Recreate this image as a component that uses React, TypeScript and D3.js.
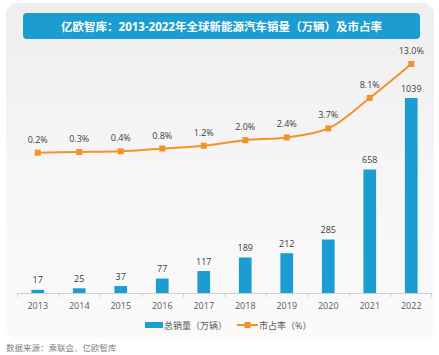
import React from "react";
import * as d3 from "d3";

const years = ["2013", "2014", "2015", "2016", "2017", "2018", "2019", "2020", "2021", "2022"];
const sales = [17, 25, 37, 77, 117, 189, 212, 285, 658, 1039];
const share = [0.2, 0.3, 0.4, 0.8, 1.2, 2.0, 2.4, 3.7, 8.1, 13.0];
const shareLabels = ["0.2%", "0.3%", "0.4%", "0.8%", "1.2%", "2.0%", "2.4%", "3.7%", "8.1%", "13.0%"];
const title = "亿欧智库：2013-2022年全球新能源汽车销量（万辆）及市占率";
const legendBar = "总销量（万辆）";
const legendLine = "市占率（%）";
const source = "数据来源：乘联会、亿欧智库";

const FONT = "'Open Sans', 'Noto Sans CJK SC', sans-serif";
const BLUE = "#1b9dd2";
const ORANGE = "#f39229";

export default function App() {
  const W = 439, H = 355;
  const x = d3.scaleBand<string>().domain(years).range([17, 432]).paddingInner(0).paddingOuter(0);
  const baseY = 293;
  const yBar = d3.scaleLinear().domain([0, 1039]).range([baseY, 98]);
  const yLine = d3.scaleLinear().domain([0.2, 13.0]).range([152.7, 64]);
  const bw = 12.7;
  const cx = (d: string) => (x(d) as number) + x.bandwidth() / 2;
  const line = d3.line<number>().x((_, i) => cx(years[i])).y((d) => yLine(d)).curve(d3.curveMonotoneX);

  return (
    <svg width={W} height={H} style={{ position: "absolute", left: 0, top: 0, fontFamily: FONT }}>
      <defs>
        <linearGradient id="bg" x1="0" y1="0" x2="0" y2="1">
          <stop offset="0" stopColor="#eeeeee" />
          <stop offset="0.5" stopColor="#f6f6f6" />
          <stop offset="1" stopColor="#fafafa" />
        </linearGradient>
      </defs>
      <rect x={0} y={0} width={W} height={H} fill="#ffffff" />
      <rect x={6} y={3} width={428} height={336} rx={11} fill="url(#bg)" />
      <rect x={23} y={13} width={397} height={26} rx={4} fill={BLUE} />
      <text x={221.5} y={30.5} textAnchor="middle" fill="#ffffff" fontSize={11.5} fontWeight="bold">{title}</text>

      {/* axis */}
      <line x1={17} x2={432} y1={baseY + 0.5} y2={baseY + 0.5} stroke="#d0d0d0" strokeWidth={1} />
      {years.map((d) => (
        <line key={"t" + d} x1={(x(d) as number) + 0.5} x2={(x(d) as number) + 0.5} y1={baseY} y2={baseY + 4} stroke="#d0d0d0" />
      ))}
      <line x1={431.5} x2={431.5} y1={baseY} y2={baseY + 4} stroke="#d0d0d0" />
      {years.map((d) => (
        <text key={"y" + d} x={cx(d)} y={309} textAnchor="middle" fontSize={9} fill="#595959">{d}</text>
      ))}

      {/* bars */}
      {sales.map((v, i) => (
        <g key={"b" + i}>
          <rect x={cx(years[i]) - bw / 2} y={yBar(v)} width={bw} height={baseY - yBar(v)} fill={BLUE} />
          <text x={cx(years[i])} y={yBar(v) - 6.5} textAnchor="middle" fontSize={9} fill="#404040">{v}</text>
        </g>
      ))}

      {/* line */}
      <path d={line(share) || ""} fill="none" stroke={ORANGE} strokeWidth={2} />
      {share.map((v, i) => (
        <g key={"p" + i}>
          <rect x={cx(years[i]) - 3} y={yLine(v) - 3} width={6} height={6} fill={ORANGE} />
          <text x={cx(years[i])} y={yLine(v) - 10} textAnchor="middle" fontSize={9} fill="#404040">{shareLabels[i]}</text>
        </g>
      ))}

      {/* legend */}
      <rect x={145} y={322} width={18} height={6} fill={BLUE} />
      <text x={164} y={328.5} fontSize={9} fill="#595959">{legendBar}</text>
      <line x1={237} x2={258} y1={325} y2={325} stroke={ORANGE} strokeWidth={2} />
      <rect x={244.5} y={322} width={6} height={6} fill={ORANGE} />
      <text x={259} y={328.5} fontSize={9} fill="#595959">{legendLine}</text>

      <text x={6} y={351} fontSize={8.5} fill="#7f7f7f">{source}</text>
    </svg>
  );
}
